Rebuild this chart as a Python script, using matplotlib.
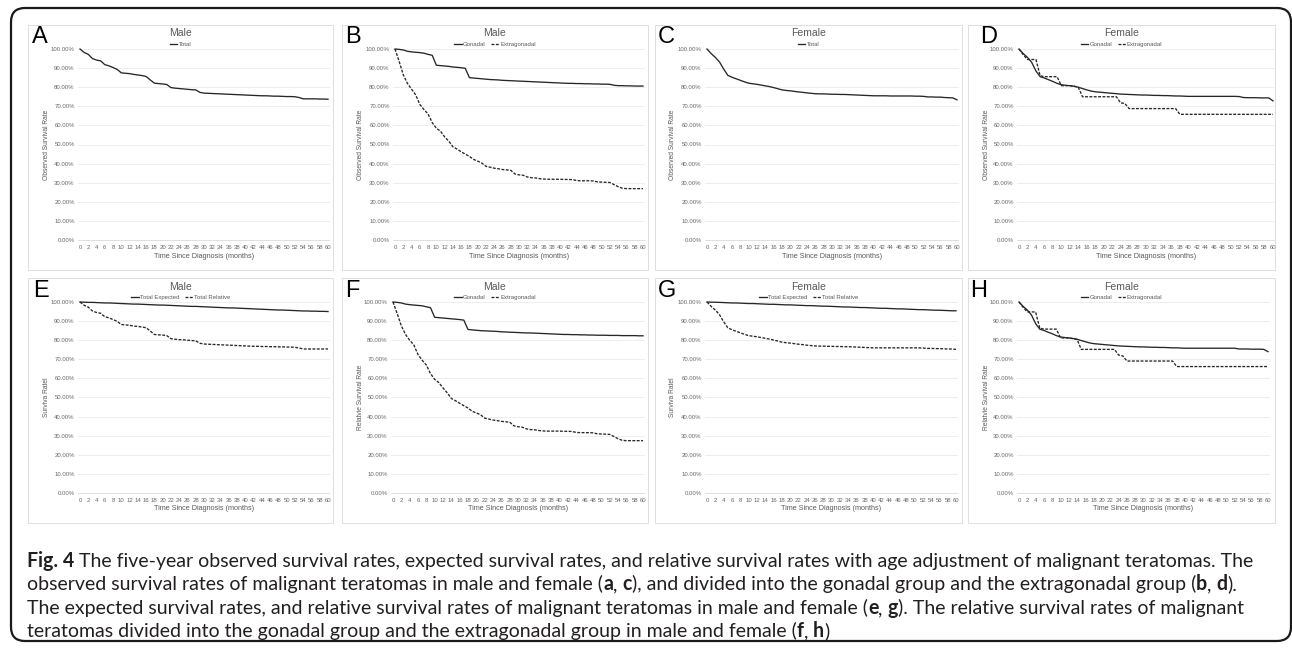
import matplotlib
matplotlib.use("Agg")
import matplotlib.pyplot as plt
from matplotlib.patches import Rectangle, FancyBboxPatch
from matplotlib.lines import Line2D
from matplotlib.ticker import FuncFormatter

# ---------------- data (survival rate, %) ----------------
months = list(range(0, 61))

male_total_obs = [100, 98.2, 97.2, 95.0, 94.2, 93.8, 91.8, 91.2, 90.3, 89.3, 87.5, 87.3, 87.1, 86.7, 86.4, 86.1,
                  85.6, 83.8, 82.1, 81.9, 81.7, 81.4, 79.8, 79.5, 79.3, 79.1, 78.9, 78.7, 78.6, 77.3, 76.9,
                  76.8, 76.7, 76.6, 76.5, 76.4, 76.3, 76.2, 76.1, 76.0, 75.9, 75.8, 75.7, 75.6, 75.5, 75.5,
                  75.4, 75.3, 75.3, 75.2, 75.1, 75.1, 75.0, 74.6, 73.9, 73.9, 73.9, 73.9, 73.8, 73.8, 73.7]

male_gonadal_obs = [100, 99.8, 99.5, 98.8, 98.5, 98.3, 98.1, 97.8, 97.2, 96.7, 91.5, 91.3, 91.1, 90.9, 90.6, 90.4,
                    90.2, 89.9, 85.0, 84.8, 84.6, 84.4, 84.2, 84.0, 83.9, 83.8, 83.6, 83.5, 83.4, 83.3, 83.2,
                    83.1, 83.0, 82.9, 82.8, 82.7, 82.6, 82.5, 82.4, 82.3, 82.2, 82.1, 82.0, 82.0, 81.9, 81.9,
                    81.8, 81.8, 81.7, 81.7, 81.6, 81.6, 81.5, 81.0, 80.8, 80.8, 80.7, 80.7, 80.6, 80.6, 80.6]

male_extra_obs = [100, 93.5, 86.5, 82.0, 79.0, 76.0, 71.0, 68.3, 66.0, 61.5, 58.5, 57.0, 54.0, 51.8, 48.8, 47.6,
                  46.2, 45.0, 43.8, 42.2, 41.3, 40.3, 38.6, 38.1, 37.6, 37.3, 36.9, 36.7, 36.5, 34.6, 34.1,
                  33.9, 33.0, 32.6, 32.5, 32.1, 31.9, 31.8, 31.8, 31.8, 31.8, 31.7, 31.7, 31.6, 31.1, 31.0,
                  31.0, 31.0, 30.9, 30.4, 30.3, 30.2, 30.1, 29.0, 27.9, 27.1, 26.9, 26.9, 26.9, 26.9, 26.9]

female_total_obs = [100, 97.6, 95.6, 93.2, 89.5, 86.2, 85.2, 84.4, 83.6, 82.8, 82.1, 81.8, 81.5, 81.1, 80.7, 80.3,
                    79.8, 79.2, 78.6, 78.3, 78.1, 77.8, 77.5, 77.3, 77.0, 76.8, 76.6, 76.5, 76.5, 76.4, 76.3,
                    76.3, 76.2, 76.2, 76.1, 76.0, 75.9, 75.8, 75.7, 75.6, 75.5, 75.5, 75.5, 75.5, 75.4, 75.4,
                    75.4, 75.4, 75.4, 75.4, 75.3, 75.3, 75.2, 74.9, 74.9, 74.8, 74.8, 74.6, 74.5, 74.4, 73.4]

female_gonadal_obs = [100, 97.6, 95.6, 93.0, 88.5, 85.5, 84.8, 83.9, 83.0, 82.0, 81.3, 81.0, 80.8, 80.5, 80.0, 79.3,
                      78.6, 78.0, 77.6, 77.4, 77.2, 77.0, 76.8, 76.6, 76.4, 76.3, 76.2, 76.1, 76.0, 75.9, 75.9,
                      75.8, 75.7, 75.7, 75.6, 75.6, 75.5, 75.4, 75.4, 75.3, 75.2, 75.2, 75.2, 75.2, 75.2, 75.2,
                      75.2, 75.2, 75.2, 75.2, 75.2, 75.2, 75.1, 74.6, 74.5, 74.5, 74.5, 74.4, 74.4, 74.4, 72.8]

female_extra_obs = [100, 97.0, 94.5, 94.5, 94.5, 86.0, 85.5, 85.5, 85.5, 85.5, 80.8, 80.8, 80.8, 80.5, 80.0, 75.0,
                    75.0, 75.0, 75.0, 75.0, 75.0, 75.0, 75.0, 75.0, 71.8, 71.5, 68.8, 68.8, 68.8, 68.8, 68.8,
                    68.8, 68.8, 68.8, 68.8, 68.8, 68.8, 68.8, 65.8, 65.8, 65.8, 65.8, 65.8, 65.8, 65.8, 65.8,
                    65.8, 65.8, 65.8, 65.8, 65.8, 65.8, 65.8, 65.8, 65.8, 65.8, 65.8, 65.8, 65.8, 65.8, 65.8]

male_total_exp = [100.0, 99.9, 99.8, 99.8, 99.7, 99.6, 99.5, 99.5, 99.4, 99.3, 99.2, 99.1, 99.0, 98.9, 98.9, 98.8,
                  98.7, 98.6, 98.5, 98.4, 98.4, 98.3, 98.2, 98.1, 98.0, 97.9, 97.8, 97.7, 97.7, 97.6, 97.5,
                  97.4, 97.3, 97.2, 97.1, 97.0, 96.9, 96.9, 96.8, 96.7, 96.6, 96.5, 96.4, 96.3, 96.2, 96.1,
                  96.0, 95.9, 95.8, 95.8, 95.7, 95.6, 95.5, 95.4, 95.3, 95.3, 95.2, 95.2, 95.1, 95.1, 95.0]

male_total_rel = [100, 98.3, 97.3, 95.3, 94.5, 94.1, 92.3, 91.7, 90.8, 89.9, 88.2, 88.0, 87.8, 87.4, 87.2, 86.9,
                  86.5, 84.8, 83.0, 82.8, 82.7, 82.4, 80.8, 80.5, 80.3, 80.2, 80.0, 79.8, 79.7, 78.4, 78.0,
                  77.9, 77.8, 77.7, 77.6, 77.5, 77.4, 77.3, 77.2, 77.1, 77.0, 76.9, 76.8, 76.8, 76.7, 76.7,
                  76.6, 76.6, 76.5, 76.5, 76.4, 76.4, 76.3, 75.9, 75.4, 75.4, 75.4, 75.4, 75.4, 75.4, 75.4]

male_gonadal_rel = [100, 99.8, 99.5, 98.9, 98.6, 98.4, 98.2, 98.0, 97.5, 97.0, 92.0, 91.8, 91.6, 91.4, 91.2, 91.0,
                    90.8, 90.5, 85.6, 85.4, 85.2, 85.0, 84.9, 84.8, 84.7, 84.6, 84.4, 84.3, 84.2, 84.1, 84.0,
                    83.9, 83.8, 83.8, 83.7, 83.6, 83.5, 83.4, 83.3, 83.2, 83.1, 83.0, 83.0, 82.9, 82.9, 82.8,
                    82.8, 82.7, 82.7, 82.6, 82.6, 82.6, 82.5, 82.5, 82.5, 82.4, 82.4, 82.4, 82.4, 82.3, 82.3]

male_extra_rel = [100, 94.0, 87.5, 83.0, 80.0, 77.5, 72.5, 69.5, 67.0, 62.5, 59.5, 57.8, 55.0, 52.5, 49.5, 48.3,
                  47.0, 45.7, 44.5, 42.8, 41.9, 41.0, 39.2, 38.7, 38.2, 37.9, 37.5, 37.3, 37.1, 35.2, 34.7,
                  34.5, 33.6, 33.2, 33.1, 32.7, 32.5, 32.4, 32.4, 32.4, 32.4, 32.3, 32.3, 32.2, 31.7, 31.6,
                  31.6, 31.6, 31.5, 31.0, 30.9, 30.8, 30.7, 29.6, 28.4, 27.6, 27.4, 27.4, 27.4, 27.4, 27.4]

female_total_exp = [100.0, 99.9, 99.9, 99.8, 99.7, 99.6, 99.5, 99.5, 99.4, 99.3, 99.2, 99.2, 99.1, 99.0, 98.9, 98.8,
                    98.8, 98.7, 98.6, 98.5, 98.5, 98.4, 98.3, 98.2, 98.1, 98.1, 98.0, 97.9, 97.8, 97.8, 97.7,
                    97.6, 97.5, 97.4, 97.4, 97.3, 97.2, 97.1, 97.1, 97.0, 96.9, 96.8, 96.7, 96.7, 96.6, 96.5,
                    96.4, 96.4, 96.3, 96.2, 96.1, 96.0, 96.0, 95.9, 95.8, 95.7, 95.7, 95.6, 95.5, 95.4, 95.4]

female_total_rel = [100, 97.7, 95.8, 93.4, 89.7, 86.5, 85.5, 84.7, 83.9, 83.1, 82.4, 82.1, 81.8, 81.4, 81.0, 80.6,
                    80.1, 79.6, 79.0, 78.7, 78.5, 78.2, 77.9, 77.7, 77.4, 77.2, 77.0, 76.9, 76.9, 76.8, 76.8,
                    76.7, 76.7, 76.6, 76.6, 76.5, 76.4, 76.3, 76.2, 76.1, 76.0, 76.0, 76.0, 76.0, 76.0, 76.0,
                    76.0, 76.0, 76.0, 76.0, 76.0, 76.0, 75.9, 75.7, 75.7, 75.6, 75.6, 75.5, 75.4, 75.4, 75.2]

female_gonadal_rel = [100, 97.7, 95.8, 93.2, 88.7, 85.8, 85.1, 84.2, 83.4, 82.4, 81.7, 81.4, 81.2, 80.9, 80.5, 79.8,
                      79.2, 78.6, 78.2, 78.0, 77.8, 77.6, 77.4, 77.2, 77.0, 76.9, 76.8, 76.7, 76.6, 76.5, 76.5,
                      76.4, 76.3, 76.3, 76.2, 76.2, 76.1, 76.0, 76.0, 75.9, 75.8, 75.8, 75.8, 75.8, 75.8, 75.8,
                      75.8, 75.8, 75.8, 75.8, 75.8, 75.8, 75.8, 75.4, 75.4, 75.4, 75.3, 75.3, 75.3, 75.2, 74.0]

female_extra_rel = [100, 97.2, 94.8, 94.8, 94.8, 86.3, 85.8, 85.8, 85.8, 85.8, 81.2, 81.2, 81.2, 80.8, 80.4, 75.2,
                    75.2, 75.2, 75.2, 75.2, 75.2, 75.2, 75.2, 75.2, 72.2, 71.8, 69.1, 69.1, 69.1, 69.1, 69.1,
                    69.1, 69.1, 69.1, 69.1, 69.1, 69.1, 69.1, 66.2, 66.2, 66.2, 66.2, 66.2, 66.2, 66.2, 66.2,
                    66.2, 66.2, 66.2, 66.2, 66.2, 66.2, 66.2, 66.2, 66.2, 66.2, 66.2, 66.2, 66.2, 66.2, 66.2]

x_ticks = list(range(0, 61, 2))
y_ticks = list(range(0, 101, 10))
panel_letters = ["A", "B", "C", "D", "E", "F", "G", "H"]
panel_titles = ["Male", "Male", "Female", "Female", "Male", "Male", "Female", "Female"]
y_labels = ["Observed Survival Rate"] * 4 + ["Surviva Ratel", "Relatvie Survival Rate",
                                             "Surviva Ratel", "Relatvie Survival Rate"]
x_label = "Time Since Diagnosis (months)"

# ---------------- figure ----------------
W, H = 1292, 649
fig = plt.figure(figsize=(W / 100, H / 100), dpi=100)
fig.patch.set_facecolor("white")
bg = fig.add_axes([0, 0, 1, 1], zorder=0)
bg.set_xlim(0, W)
bg.set_ylim(H, 0)
bg.axis("off")

FONT = "Liberation Sans"
GRAY = "#595959"
LINE = "#262626"
DASH = (0, (2.2, 1.1))

bg.add_patch(FancyBboxPatch((11, 8), 1280, 633, boxstyle="round,pad=0,rounding_size=14",
                            fc="none", ec="#1a1a1a", lw=1.6))

# panel geometry: box (l, r, t, b) and plot area (x at 0, x at 60, y at 100%, y at 0%)
row_boxes = [(25, 270), (278, 523)]
row_plot = [(49, 240), (302, 493)]
col_boxes = [(28, 333), (342, 648), (655, 962), (968, 1275)]
plot_x = [[(80, 328), (395, 643), (707, 957), (1019, 1273)],
          [(80, 328), (393, 643), (707, 956), (1019, 1268)]]
letter_x = [[32, 345, 658, 980], [33, 345, 658, 970]]
letter_base = [43, 297]
title_y = [33, 287]
legend_y = [44, 297]
xlabel_y = [256, 509]

series = [
    [("Total", male_total_obs, "-")],
    [("Gonadal", male_gonadal_obs, "-"), ("Extragonadal", male_extra_obs, DASH)],
    [("Total", female_total_obs, "-")],
    [("Gonadal", female_gonadal_obs, "-"), ("Extragonadal", female_extra_obs, DASH)],
    [("Total Expected", male_total_exp, "-"), ("Total Relative", male_total_rel, DASH)],
    [("Gonadal", male_gonadal_rel, "-"), ("Extragonadal", male_extra_rel, DASH)],
    [("Total Expected", female_total_exp, "-"), ("Total Relative", female_total_rel, DASH)],
    [("Gonadal", female_gonadal_rel, "-"), ("Extragonadal", female_extra_rel, DASH)],
]

pct = FuncFormatter(lambda v, p: f"{v:.2f}%")

for i in range(8):
    r, c = divmod(i, 4)
    bl, br = col_boxes[c]
    bt, bb = row_boxes[r]
    bg.add_patch(Rectangle((bl, bt), br - bl, bb - bt, fc="white", ec="#d9d9d9", lw=0.6))

    px0, px60 = plot_x[r][c]
    py100, py0 = row_plot[r]
    ppm = (px60 - px0) / 60.0
    ppp = (py0 - py100) / 100.0
    xl, xr = -0.4, 60.4
    yl, yh = -0.6, 100.6
    left = px0 + xl * ppm
    right = px0 + xr * ppm
    top = py100 - (yh - 100) * ppp
    bottom = py0 - yl * ppp
    ax = fig.add_axes([left / W, 1 - bottom / H, (right - left) / W, (bottom - top) / H], zorder=2)
    ax.patch.set_alpha(0)
    ax.set_xlim(xl, xr)
    ax.set_ylim(yl, yh)
    for s in ax.spines.values():
        s.set_visible(False)
    ax.set_xticks(x_ticks)
    ax.set_yticks(y_ticks)
    ax.yaxis.set_major_formatter(pct)
    ax.tick_params(length=0, labelsize=4.3, labelcolor="#666666", pad=2.6)
    ax.tick_params(axis="x", pad=3.0)
    for lab in ax.get_xticklabels() + ax.get_yticklabels():
        lab.set_family(FONT)
    for yv in y_ticks:
        ax.axhline(yv, color="#d9d9d9" if yv == 0 else "#ebebeb", lw=0.6, zorder=1)

    handles = []
    labels = []
    for name, vals, ls in series[i]:
        ax.plot(months, vals, color=LINE, lw=0.95, ls=ls, zorder=3)
        handles.append(Line2D([], [], color=LINE, lw=0.95, ls=ls))
        labels.append(name)

    cx = (bl + br) / 2.0
    bg.text(cx, title_y[r], panel_titles[i], ha="center", va="center", fontsize=7.5,
            color=GRAY, family=FONT)
    leg = fig.legend(handles, labels, loc="center", bbox_to_anchor=(cx / W, 1 - legend_y[r] / H),
                     ncol=len(labels), frameon=False, handlelength=1.3,
                     handletextpad=0.2, columnspacing=0.9, borderpad=0, prop={"family": FONT, "size": 4.3})
    for t in leg.get_texts():
        t.set_color(GRAY)

    bg.text(letter_x[r][c], letter_base[r], panel_letters[i], ha="left", va="baseline",
            fontsize=17, color="black", family=FONT)
    bg.text(bl + 18, (py100 + py0) / 2.0, y_labels[i], rotation=90, ha="center", va="center",
            fontsize=4.8, color=GRAY, family=FONT)
    bg.text((px0 + px60) / 2.0, xlabel_y[r], x_label, ha="center", va="center",
            fontsize=5.2, color=GRAY, family=FONT)

# ---------------- caption ----------------
caption_lines = [
    [("Fig. 4", True), (" The five-year observed survival rates, expected survival rates, and relative survival rates with age adjustment of malignant teratomas. The", False)],
    [("observed survival rates of malignant teratomas in male and female (", False), ("a", True), (", ", False),
     ("c", True), ("), and divided into the gonadal group and the extragonadal group (", False), ("b", True),
     (", ", False), ("d", True), (").", False)],
    [("The expected survival rates, and relative survival rates of malignant teratomas in male and female (", False),
     ("e", True), (", ", False), ("g", True), ("). The relative survival rates of malignant", False)],
    [("teratomas divided into the gonadal group and the extragonadal group in male and female (", False),
     ("f", True), (", ", False), ("h", True), (")", False)],
]
cap_font = "Lato"
cap_color = "#231f20"
renderer = fig.canvas.get_renderer()


def seg_width(s, bold, fs):
    t = bg.text(0, 0, s + "|", fontsize=fs, family=cap_font, fontweight="bold" if bold else "normal")
    t2 = bg.text(0, 0, "|", fontsize=fs, family=cap_font, fontweight="bold" if bold else "normal")
    w = t.get_window_extent(renderer).width - t2.get_window_extent(renderer).width
    t.remove()
    t2.remove()
    return w


fs0 = 13.0
w0 = sum(seg_width(s, b, fs0) for s, b in caption_lines[0])
fs = fs0 * (1253 - 27) / w0

baselines = [567, 590, 614, 637]
for line, yb in zip(caption_lines, baselines):
    x = 27
    for s, b in line:
        bg.text(x, yb, s, fontsize=fs, family=cap_font, fontweight="bold" if b else "normal",
                color=cap_color, ha="left", va="baseline")
        x += seg_width(s, b, fs)

fig.savefig("out.png", dpi=100, facecolor="white")
